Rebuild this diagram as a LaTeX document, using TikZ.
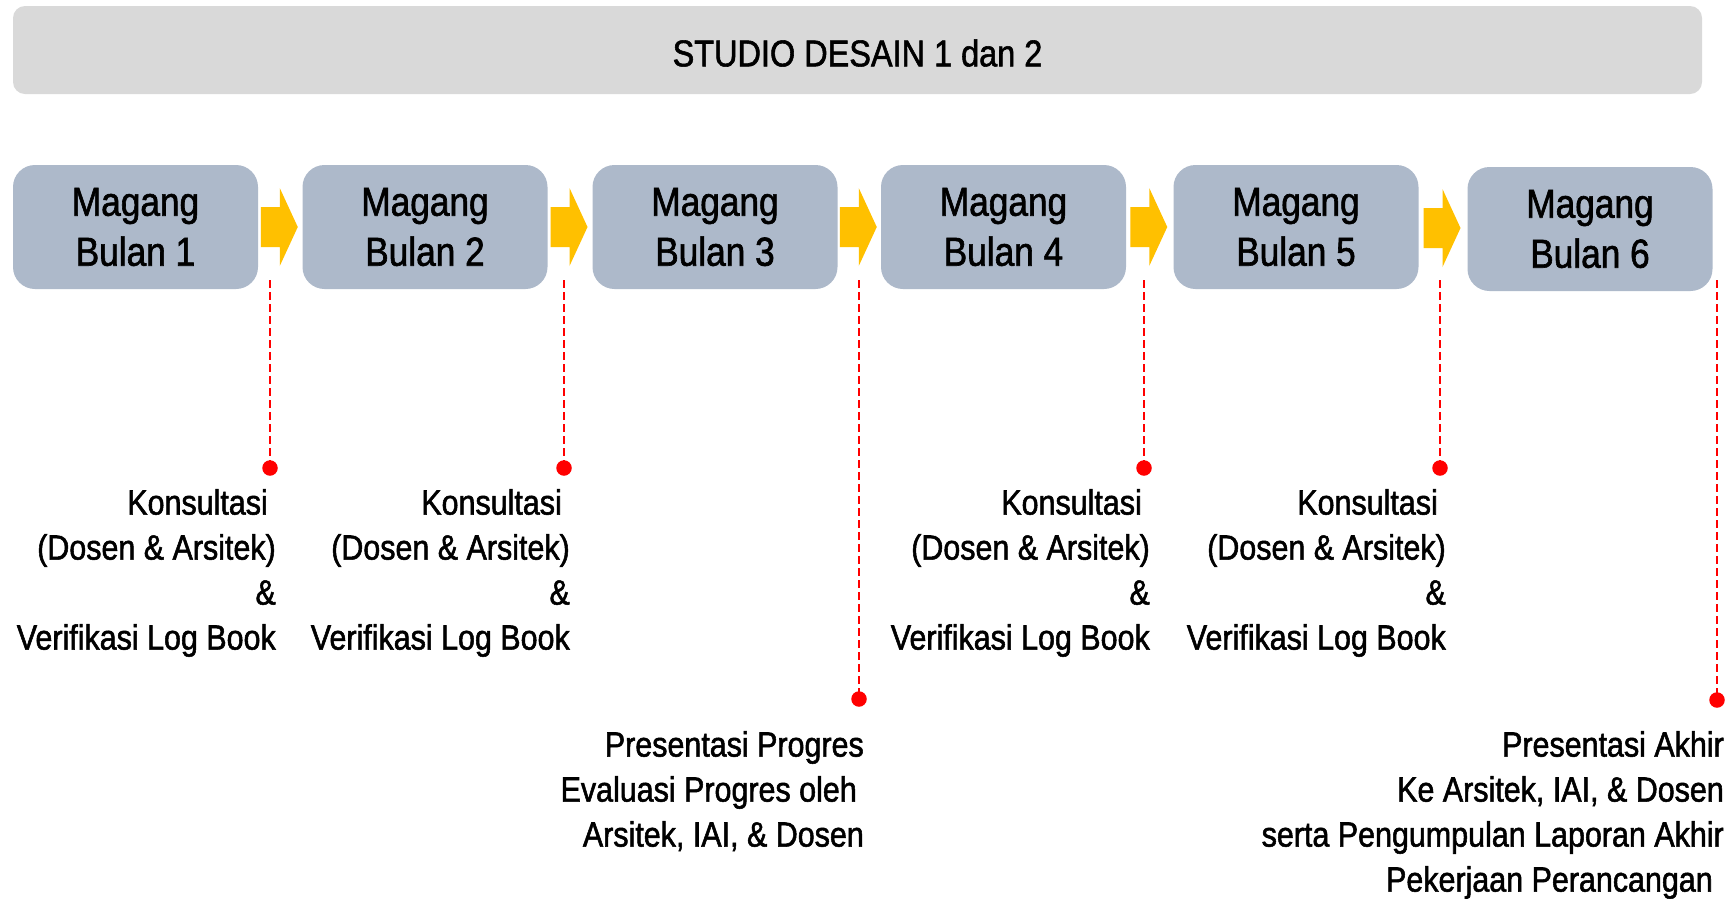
\documentclass[tikz,border=0pt]{standalone}
\usepackage{fontspec}
\setmainfont{Liberation Sans}[FakeStretch=0.87,FakeBold=1.5]
\usetikzlibrary{calc}
\definecolor{bannerc}{HTML}{D9D9D9}
\definecolor{boxc}{HTML}{ADB9CA}
\definecolor{arrowc}{HTML}{FFC000}
\definecolor{redc}{HTML}{FF0000}
\begin{document}
\begin{tikzpicture}[x=1pt,y=-1pt,
  banner/.style={fill=bannerc, rounded corners=12pt, minimum width=1689pt, minimum height=88pt, inner sep=0pt},
  titletext/.style={font=\fontsize{37.3}{44}\selectfont, inner sep=0pt},
  month/.style={fill=boxc, rounded corners=22pt, minimum width=245pt, minimum height=124pt, align=center, font=\fontsize{40.5}{50}\selectfont, inner sep=0pt},
  flow/.style={fill=arrowc},
  tick/.style={draw=redc, line width=2.7pt, dash pattern=on 8pt off 4pt},
  dot/.style={circle, fill=redc, minimum size=15.5pt, inner sep=0pt},
  note/.style={align=right, font=\fontsize{35}{45}\selectfont, inner sep=0pt, anchor=north east}
]
\fill[white] (0,0) rectangle (1735,897);
\node[banner] (banner) at (857.5,50) {};
\node[titletext] (title) at ($(banner.center)+(0,3)$) {STUDIO DESAIN 1 dan 2};

\node[month] (b1) at (135.5,227) {Magang\\Bulan 1};
\node[month] (b2) at (425,227) {Magang\\Bulan 2};
\node[month] (b3) at (715,227) {Magang\\Bulan 3};
\node[month] (b4) at (1003.5,227) {Magang\\Bulan 4};
\node[month] (b5) at (1296,227) {Magang\\Bulan 5};
\node[month] (b6) at (1590,229) {Magang\\Bulan 6};

\foreach \a/\b in {b1/b2,b2/b3,b3/b4,b4/b5,b5/b6}{
  \coordinate (m) at ($(\a.east)!0.5!(\b.west)$);
  \fill[flow] ($(m)+(-19.5,-20)$) -- ($(m)+(-0.5,-20)$) -- ($(m)+(-0.5,-39)$)
    -- ($(m)+(17.5,0)$) -- ($(m)+(-0.5,39)$) -- ($(m)+(-0.5,20)$)
    -- ($(m)+(-19.5,20)$) -- cycle;
}

\foreach \i/\x/\y in {1/270/468,2/564/468,3/859/699,4/1144/468,5/1440/468,6/1717/700}{
  \coordinate (t\i) at (\x,280);
  \node[dot] (d\i) at (\x,\y) {};
  \draw[tick] (t\i) -- (d\i.center);
}

\node[note] (n1) at ($(d1)+(6,21)$) {Konsultasi\kern8pt\\(Dosen \& Arsitek)\\\&\\Verifikasi Log Book};
\node[note] (n2) at ($(d2)+(6,21)$) {Konsultasi\kern8pt\\(Dosen \& Arsitek)\\\&\\Verifikasi Log Book};
\node[note] (n4) at ($(d4)+(6,21)$) {Konsultasi\kern8pt\\(Dosen \& Arsitek)\\\&\\Verifikasi Log Book};
\node[note] (n5) at ($(d5)+(6,21)$) {Konsultasi\kern8pt\\(Dosen \& Arsitek)\\\&\\Verifikasi Log Book};
\node[note] (n3) at ($(d3)+(5,32)$) {Presentasi Progres\\Evaluasi Progres oleh\kern7pt\\Arsitek, IAI, \& Dosen};
\node[note] (n6) at ($(d6)+(7,31)$) {Presentasi Akhir\\Ke Arsitek, IAI, \& Dosen\\serta Pengumpulan Laporan Akhir\\Pekerjaan Perancangan\kern11pt};
\end{tikzpicture}
\end{document}
